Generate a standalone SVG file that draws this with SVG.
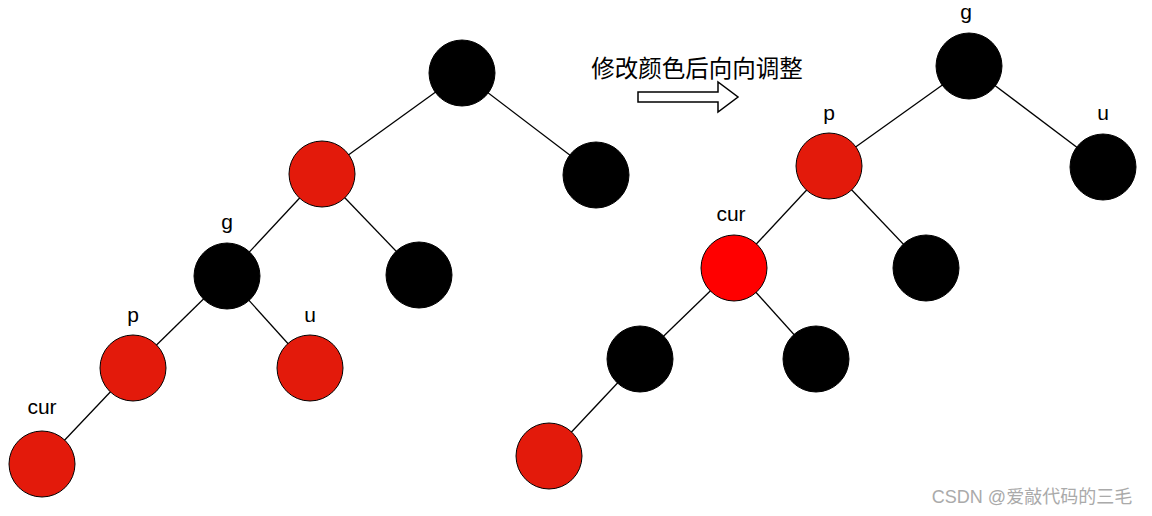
<svg xmlns="http://www.w3.org/2000/svg" width="1152" height="516" viewBox="0 0 1152 516">
<style>
.b{fill:#000;stroke:#000;stroke-width:1}
.r{fill:#e31a0b;stroke:#000;stroke-width:1}
.rr{fill:#ff0000;stroke:#000;stroke-width:1}
.l{stroke:#000;stroke-width:1.3;fill:none}
text{font-family:"Liberation Sans","Noto Sans CJK SC",sans-serif;font-size:21px;text-anchor:middle;fill:#000}
</style>
<rect width="1152" height="516" fill="#fff"/>
<g id="connectors">
<line class="l" x1="462" y1="73" x2="322" y2="174"/><line class="l" x1="462" y1="73" x2="596" y2="175"/>
<line class="l" x1="322" y1="174" x2="227" y2="276"/><line class="l" x1="322" y1="174" x2="419" y2="275"/>
<line class="l" x1="227" y1="276" x2="133" y2="368"/><line class="l" x1="227" y1="276" x2="310" y2="368"/>
<line class="l" x1="133" y1="368" x2="42" y2="464"/>
<line class="l" x1="969" y1="66" x2="829" y2="166"/><line class="l" x1="969" y1="66" x2="1103" y2="167"/>
<line class="l" x1="829" y1="166" x2="734" y2="268"/><line class="l" x1="829" y1="166" x2="926" y2="268"/>
<line class="l" x1="734" y1="268" x2="640" y2="359"/><line class="l" x1="734" y1="268" x2="816" y2="359"/>
<line class="l" x1="640" y1="359" x2="549" y2="456"/>
<path d="M638 92H718V82L738 97L718 112V102H638Z" fill="#fff" stroke="#000" stroke-width="1.5"/>
</g>
<g id="L1"><circle class="b" cx="462" cy="73" r="33"/></g>
<g id="L2"><circle class="r" cx="322" cy="174" r="33"/></g>
<g id="L3"><circle class="b" cx="596" cy="175" r="33"/></g>
<g id="Lg"><circle class="b" cx="227" cy="276" r="33"/><text x="227" y="229">g</text></g>
<g id="L5"><circle class="b" cx="419" cy="275" r="33"/></g>
<g id="Lp"><circle class="r" cx="133" cy="368" r="33"/><text x="133" y="322">p</text></g>
<g id="Lu"><circle class="r" cx="310" cy="368" r="33"/><text x="310" y="322">u</text></g>
<g id="Lcur"><circle class="r" cx="42" cy="464" r="33"/><text x="42" y="414">cur</text></g>
<g id="Rg"><circle class="b" cx="969" cy="66" r="33"/><text x="966" y="19">g</text></g>
<g id="Rp"><circle class="r" cx="829" cy="166" r="33"/><text x="829" y="120">p</text></g>
<g id="Ru"><circle class="b" cx="1103" cy="167" r="33"/><text x="1103" y="120">u</text></g>
<g id="Rcur"><circle class="rr" cx="734" cy="268" r="33"/><text x="731" y="221">cur</text></g>
<g id="R5"><circle class="b" cx="926" cy="268" r="33"/></g>
<g id="R6"><circle class="b" cx="640" cy="359" r="33"/></g>
<g id="R7"><circle class="b" cx="816" cy="359" r="33"/></g>
<g id="R8"><circle class="r" cx="549" cy="456" r="33"/></g>
<text x="697" y="77" style="font-size:23.5px">修改颜色后向向调整</text>
<text x="1032" y="503" style="font-size:18px;fill:#aaa">CSDN @爱敲代码的三毛</text>
</svg>
